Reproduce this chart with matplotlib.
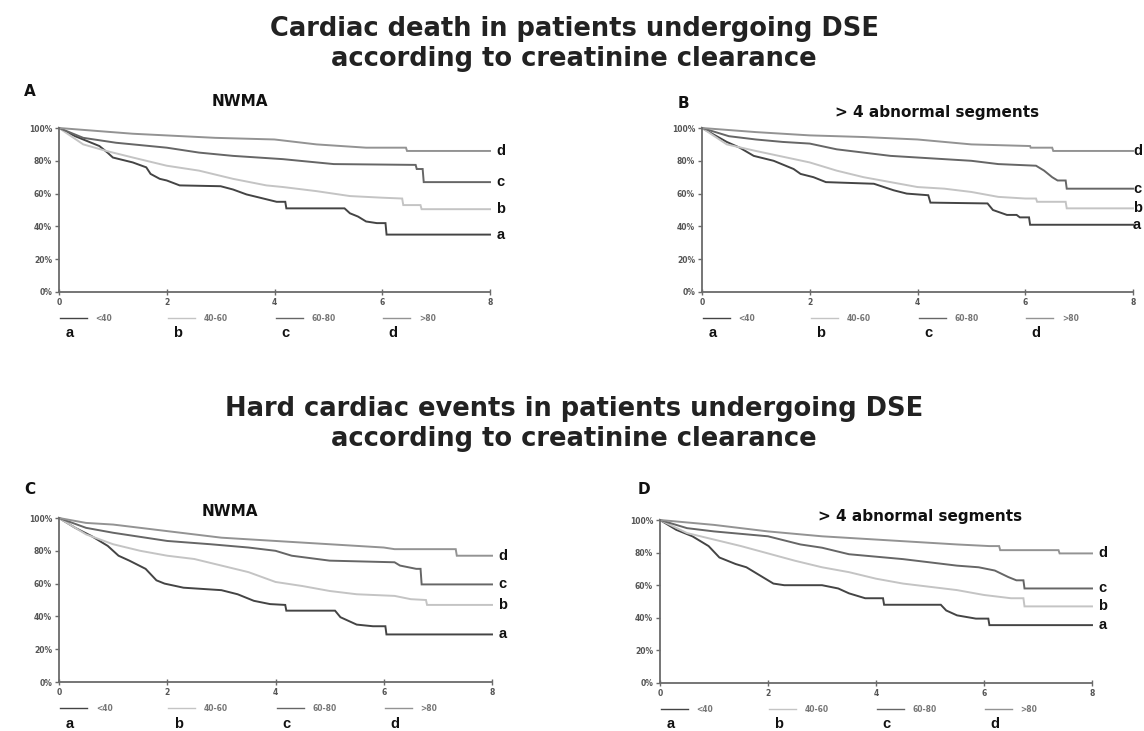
import matplotlib
matplotlib.use("Agg")
import matplotlib.pyplot as plt

# ---- data (years vs. event-free survival, %) ----
# vertical drops are given as two points with (almost) the same time
groups = ["a", "b", "c", "d"]
legend_labels = ["<40", "40-60", "60-80", ">80"]
x_ticks = [0, 2, 4, 6, 8]
y_ticks = [0, 20, 40, 60, 80, 100]
y_tick_labels = ["0%", "20%", "40%", "60%", "80%", "100%"]

title_top = "Cardiac death in patients undergoing DSE\naccording to creatinine clearance"
title_bottom = "Hard cardiac events in patients undergoing DSE\naccording to creatinine clearance"
panel_letters = ["A", "B", "C", "D"]
panel_titles = ["NWMA", "> 4 abnormal segments", "NWMA", "> 4 abnormal segments"]

# panel A
A_a_t = [0, 0.3, 0.6, 0.75, 0.9, 1.0, 1.37, 1.62, 1.7, 1.87, 2.0, 2.24, 3.0, 3.23, 3.48, 3.73, 4.04, 4.2, 4.22, 5.3, 5.4, 5.55, 5.7, 5.9, 6.06, 6.08, 8]
A_a_s = [100, 95, 91, 89, 85, 82, 79, 76, 72, 69, 68, 65, 64.5, 62.5, 59.5, 57.5, 55, 55, 51, 51, 48, 46, 43, 42, 42, 35, 35]
A_b_t = [0, 0.45, 0.88, 1.37, 2.0, 2.6, 3.23, 3.85, 4.16, 4.78, 5.4, 6.0, 6.37, 6.39, 6.71, 6.73, 8]
A_b_s = [100, 90, 86, 82, 77, 74, 69, 65, 64, 61.5, 58.5, 57.5, 57, 53, 53, 50.5, 50.5]
A_c_t = [0, 0.45, 1.06, 2.0, 2.6, 3.23, 4.16, 4.47, 5.1, 6.62, 6.64, 6.75, 6.77, 8]
A_c_s = [100, 94, 91, 88, 85, 83, 81, 80, 78, 77.5, 75, 75, 67, 67]
A_d_t = [0, 1.37, 2.9, 4.0, 4.78, 5.7, 6.44, 6.46, 8]
A_d_s = [100, 96.5, 94, 93, 90, 88, 88, 86, 86]

# panel B
B_a_t = [0, 0.46, 0.7, 0.96, 1.33, 1.7, 1.83, 2.07, 2.3, 3.19, 3.56, 3.8, 4.2, 4.24, 5.3, 5.4, 5.66, 5.84, 5.9, 6.07, 6.09, 8]
B_a_s = [100, 91.5, 88, 83, 80, 75, 72, 70, 67, 66, 62, 60, 59, 54.5, 54, 50, 47, 47, 45.5, 45.5, 41, 41]
B_b_t = [0, 0.46, 1.0, 2.0, 2.5, 3.0, 3.5, 4.0, 4.5, 5.0, 5.5, 6.0, 6.2, 6.22, 6.75, 6.77, 8]
B_b_s = [100, 90, 86, 79, 74, 70, 67, 64, 63, 61, 58, 57, 57, 55, 55, 51, 51]
B_c_t = [0, 0.5, 1.0, 1.5, 2.0, 2.5, 3.0, 3.5, 4.0, 4.5, 5.0, 5.5, 6.2, 6.35, 6.5, 6.6, 6.75, 6.77, 8]
B_c_s = [100, 95, 93, 91.5, 90.5, 87, 85, 83, 82, 81, 80, 78, 77, 74, 70, 68, 68, 63, 63]
B_d_t = [0, 1.0, 2.0, 3.0, 4.0, 5.0, 6.09, 6.1, 6.5, 6.52, 8]
B_d_s = [100, 97.5, 95.5, 94.5, 93, 90, 89, 88, 88, 86, 86]

# panel C
C_a_t = [0, 0.3, 0.6, 0.9, 1.1, 1.3, 1.6, 1.8, 1.95, 2.3, 3.0, 3.3, 3.6, 3.9, 4.18, 4.2, 5.1, 5.2, 5.5, 5.8, 6.03, 6.05, 8]
C_a_s = [100, 94, 89, 83, 77, 74, 69, 62, 60, 57.5, 56, 53.5, 49.5, 47.5, 47, 43.5, 43.5, 39.5, 35, 34, 34, 29, 29]
C_b_t = [0, 0.5, 1.0, 1.5, 2.0, 2.5, 3.0, 3.5, 4.0, 4.5, 5.0, 5.5, 6.2, 6.5, 6.78, 6.8, 8]
C_b_s = [100, 90, 84, 80, 77, 75, 71, 67, 61, 58.5, 55.5, 53.5, 52.5, 50.5, 50, 47, 47]
C_c_t = [0, 0.5, 1.0, 2.0, 2.8, 3.5, 4.0, 4.3, 5.0, 6.2, 6.3, 6.6, 6.68, 6.7, 8]
C_c_s = [100, 94, 91, 86, 84, 82, 80, 77, 74, 73, 71, 69, 69, 59.5, 59.5]
C_d_t = [0, 0.5, 1.0, 2.0, 3.0, 4.0, 5.0, 6.0, 6.2, 7.33, 7.35, 8]
C_d_s = [100, 97, 96, 92, 88, 86, 84, 82, 81, 81, 77, 77]

# panel D
D_a_t = [0, 0.3, 0.6, 0.9, 1.1, 1.4, 1.6, 1.9, 2.1, 2.3, 3.0, 3.3, 3.5, 3.8, 4.13, 4.15, 5.2, 5.3, 5.5, 5.85, 6.08, 6.1, 8]
D_a_s = [100, 94, 90, 84, 77, 73, 71, 65, 61, 60, 60, 58, 55, 52, 52, 48, 48, 44.5, 41.5, 39.5, 39.5, 35.5, 35.5]
D_b_t = [0, 0.5, 1.0, 1.5, 2.0, 2.5, 3.0, 3.5, 4.0, 4.5, 5.0, 5.5, 6.0, 6.5, 6.73, 6.75, 8]
D_b_s = [100, 92, 88, 84, 79.5, 75, 71, 68, 64, 61, 59, 57, 54, 52, 52, 47, 47]
D_c_t = [0, 0.5, 1.0, 2.0, 2.6, 3.0, 3.5, 4.0, 4.5, 5.0, 5.5, 5.9, 6.2, 6.45, 6.6, 6.73, 6.75, 8]
D_c_s = [100, 95, 93, 90, 85, 83, 79, 77.5, 76, 74, 72, 71, 69, 65, 63, 63, 58, 58]
D_d_t = [0, 1.0, 2.0, 3.0, 4.0, 5.0, 5.5, 6.1, 6.28, 6.3, 7.38, 7.4, 8]
D_d_s = [100, 97, 93, 90, 88, 86, 85, 84, 84, 81.5, 81.5, 79.5, 79.5]

panels = [
    [(A_a_t, A_a_s), (A_b_t, A_b_s), (A_c_t, A_c_s), (A_d_t, A_d_s)],
    [(B_a_t, B_a_s), (B_b_t, B_b_s), (B_c_t, B_c_s), (B_d_t, B_d_s)],
    [(C_a_t, C_a_s), (C_b_t, C_b_s), (C_c_t, C_c_s), (C_d_t, C_d_s)],
    [(D_a_t, D_a_s), (D_b_t, D_b_s), (D_c_t, D_c_s), (D_d_t, D_d_s)],
]

# ---- styling / layout ----
colors = ["#444444", "#c4c4c4", "#666666", "#939393"]
W, H = 1144, 731
# axes boxes in pixels: left, top, right, bottom
boxes = [(59, 128, 490, 292), (702, 128, 1133, 292),
         (59, 518, 492, 682), (660, 520, 1092, 683)]
end_label_x = [8.12, 8.0, 8.12, 8.12]
legend_letter_y = [-25, -25, -25.5, -25]
letter_pos = [(30, 92), (683, 104), (30, 490), (644, 490)]
subtitle_pos = [(240, 102), (937, 113), (230, 512), (920, 516)]

fig = plt.figure(figsize=(W / 100, H / 100), dpi=100)
fig.patch.set_facecolor("white")

def px(x, y):
    return x / W, 1 - y / H

fig.text(*px(574, 44), title_top, ha="center", va="center", fontsize=18.5,
         fontweight="bold", family="DejaVu Sans", color="#222222", linespacing=1.15)
fig.text(*px(574, 424), title_bottom, ha="center", va="center", fontsize=18.5,
         fontweight="bold", family="DejaVu Sans", color="#222222", linespacing=1.15)

for i, series in enumerate(panels):
    l, t, r, b = boxes[i]
    ax = fig.add_axes([l / W, 1 - b / H, (r - l) / W, (b - t) / H])
    for j, (tt, ss) in enumerate(series):
        ax.plot(tt, ss, color=colors[j], lw=1.4, solid_joinstyle="miter",
                clip_on=False)
        ax.text(end_label_x[i], ss[-1], groups[j], ha="left", va="center",
                fontsize=10.5, fontweight="bold", family="Liberation Sans",
                color="#111111")
        # legend below the x axis
        x0 = x_ticks[j]
        ax.plot([x0 + 0.02, x0 + 0.52], [-16, -16], color=colors[j], lw=1.0,
                clip_on=False)
        ax.text(x0 + 0.68, -16, legend_labels[j], ha="left", va="center",
                fontsize=5.5, fontweight="bold", color="#777777")
        ax.text(x0 + 0.2, legend_letter_y[i], groups[j], ha="center",
                va="center", fontsize=10.5, fontweight="bold",
                family="Liberation Sans", color="#111111")

    ax.set_xlim(0, 8)
    ax.set_ylim(0, 100)
    ax.set_xticks(x_ticks)
    ax.set_yticks(y_ticks)
    ax.set_yticklabels(y_tick_labels)
    for side in ["top", "right"]:
        ax.spines[side].set_visible(False)
    for side in ["left", "bottom"]:
        ax.spines[side].set_color("#6a6a6a")
        ax.spines[side].set_linewidth(1.3)
    ax.tick_params(axis="y", direction="out", length=3, width=1, color="#6a6a6a",
                   labelsize=5.5, labelcolor="#555555", pad=2)
    ax.tick_params(axis="x", direction="inout", length=4, width=1, color="#6a6a6a",
                   labelsize=5.5, labelcolor="#555555", pad=2)
    for lab in ax.get_xticklabels() + ax.get_yticklabels():
        lab.set_fontweight("bold")
    ax.set_facecolor("none")

    fig.text(*px(*letter_pos[i]), panel_letters[i], ha="center", va="center",
             fontsize=11, fontweight="bold", color="#111111")
    fig.text(*px(*subtitle_pos[i]), panel_titles[i], ha="center", va="center",
             fontsize=11, fontweight="bold", color="#111111")

fig.savefig("out.png", dpi=100, facecolor="white")
